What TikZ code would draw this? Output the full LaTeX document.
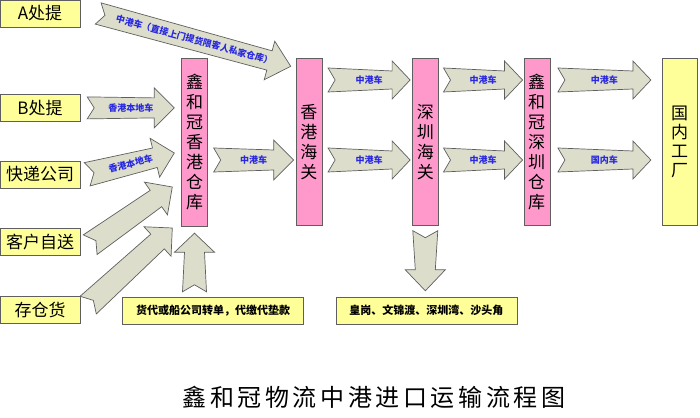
\documentclass[tikz,border=0pt]{standalone}
\usepackage{fontspec}
\setmainfont{Noto Sans CJK SC}
\usetikzlibrary{calc,positioning}
\definecolor{boxyellow}{RGB}{255,255,153}
\definecolor{boxpink}{RGB}{255,153,204}
\definecolor{arrowgray}{RGB}{221,221,204}
\definecolor{edgegray}{RGB}{95,95,95}
\definecolor{lblblue}{RGB}{40,40,225}

\begin{document}
\begin{tikzpicture}[x=1pt, y=1pt,
		yellowbox/.style={draw=edgegray, fill=boxyellow, inner sep=0pt, minimum width=80pt, minimum height=27pt, font=\fontsize{17}{20}\selectfont},
		pinkbox/.style={draw=edgegray, fill=boxpink, inner sep=0pt, minimum width=26pt, minimum height=167pt, align=center, font=\fontsize{17}{20}\selectfont},
		notebox/.style={draw=edgegray, fill=boxyellow, inner sep=0pt, minimum width=181pt, minimum height=27pt, font=\fontsize{11}{13}\selectfont\bfseries},
		lbl/.style={text=lblblue, inner sep=0pt, font=\fontsize{9}{10}\selectfont\bfseries},
		tw/.store in=\fattw, nw/.store in=\fatnw, hw/.store in=\fathw, hl/.store in=\fathl, nd/.store in=\fatnd,
		tw=12pt, nw=10pt, hw=20pt, hl=20pt, nd=7pt,
		fat/.style={draw=edgegray, fill=arrowgray, line width=0.7pt,
			to path={let \p1=($(\tikztotarget)-(\tikztostart)$), \n1={atan2(\y1,\x1)} in
				($(\tikztotarget)!\fathl!(\tikztostart)$) coordinate (neck)
				($(\tikztostart)!\fattw!90:(\tikztotarget)$)
				-- ($(neck)!\fatnw!-90:(\tikztostart)$)
				-- ($(neck)!\fathw!-90:(\tikztostart)$)
				-- (\tikztotarget)
				-- ($(neck)!\fathw!90:(\tikztostart)$)
				-- ($(neck)!\fatnw!90:(\tikztostart)$)
				-- ($(\tikztostart)!\fattw!-90:(\tikztotarget)$)
				-- ($(\tikztostart)!\fatnd!(\tikztotarget)$)
				-- cycle
				($(\tikztostart)!.5!(\tikztotarget)$) node[lbl, rotate=\n1] {#1}}},
		fat/.default={}
		]
	\useasboundingbox (0,0) rectangle (700,417);
	\fill[white] (0,0) rectangle (700,417);

	% sources on the left
	\node[yellowbox] (pA) at (40,403.5) {A处提};
	\node[yellowbox, below=67pt of pA] (pB) {B处提};
	\node[yellowbox, below=39pt of pB] (exp) {快递公司};
	\node[yellowbox, below=40pt of exp] (self) {客户自送};
	\node[yellowbox, below=41pt of self] (stock) {存仓货};

	% warehouses and customs
	\node[pinkbox, minimum height=168pt] (hkwh) at (194.5,275) {鑫\\和\\冠\\香\\港\\仓\\库};
	\node[pinkbox, right=88pt of hkwh] (hkcus) {香\\港\\海\\关};
	\node[pinkbox, right=90pt of hkcus] (szcus) {深\\圳\\海\\关};
	\node[pinkbox, right=85pt of szcus] (szwh) {鑫\\和\\冠\\深\\圳\\仓\\库};
	\node[yellowbox, right=112pt of szwh, minimum width=35pt, minimum height=167pt, align=center, font=\fontsize{17}{19}\selectfont] (factory) {国\\内\\工\\厂};

	% notes below
	\node[notebox] (fwd) at (213,106.5) {货代或船公司转单，代缴代垫款};
	\node[notebox, right=32pt of fwd] (port) {皇岗、文锦渡、深圳湾、沙头角};

	\node[font=\fontsize{24}{28}\selectfont\addfontfeature{LetterSpace=15}] (title) at (374,20) {鑫和冠物流中港进口运输流程图};

	% block arrows
	\draw[fat={中港车（直接上门提货限客人私家仓库）}, tw=11pt, hl=22pt] ([xshift=18pt]pA.east) to ([shift={(-5pt,-8pt)}]hkcus.north west);
	\draw[fat=香港本地车, tw=11pt] ([xshift=7pt]pB.east) to ($(hkwh.west |- pB.east)+(-7pt,0)$);
	\draw[fat=香港本地车] ([xshift=7pt]exp.east) to ([shift={(-7pt,-11pt)}]hkwh.west);
	\draw[fat] ([xshift=10pt,yshift=-3pt]self.east) to ([shift={(-9pt,-45pt)}]hkwh.west);
	\draw[fat] ([xshift=8pt,yshift=5pt]stock.east) to ([shift={(-9pt,-86pt)}]hkwh.west);
	\draw[fat, hl=19pt] ($(hkwh.south |- fwd.north)+(0,5pt)$) to ([yshift=-7pt]hkwh.south);

	\draw[fat=中港车] ([shift={(6pt,-18pt)}]hkwh.east) to ([shift={(-2pt,-18pt)}]hkcus.west);
	\draw[fat=中港车, nw=9pt, hw=19pt, hl=18pt] ([shift={(6pt,62pt)}]hkcus.east) to ([shift={(-2pt,62pt)}]szcus.west);
	\draw[fat=中港车, nw=9pt, hw=19pt, hl=18pt] ([shift={(6pt,-18pt)}]hkcus.east) to ([shift={(-2pt,-18pt)}]szcus.west);
	\draw[fat=中港车, nw=9pt, hw=19pt, hl=18pt] ([shift={(5pt,62pt)}]szcus.east) to ([shift={(-1pt,62pt)}]szwh.west);
	\draw[fat=中港车, nw=9pt, hw=19pt, hl=18pt] ([shift={(5pt,-18pt)}]szcus.east) to ([shift={(-1pt,-18pt)}]szwh.west);
	\draw[fat=中港车, nw=9pt, hw=19pt, hl=18pt] ([shift={(8pt,62pt)}]szwh.east) to ([shift={(-11pt,62pt)}]factory.west |- szwh.east);
	\draw[fat=国内车, nw=9pt, hw=19pt, hl=18pt] ([shift={(8pt,-18pt)}]szwh.east) to ([shift={(-11pt,-18pt)}]factory.west |- szwh.east);
	\draw[fat, tw=12.5pt, hl=21pt] ([yshift=-5pt]szcus.south) to ($(szcus.south |- port.north)+(0,6pt)$);
\end{tikzpicture}
\end{document}
